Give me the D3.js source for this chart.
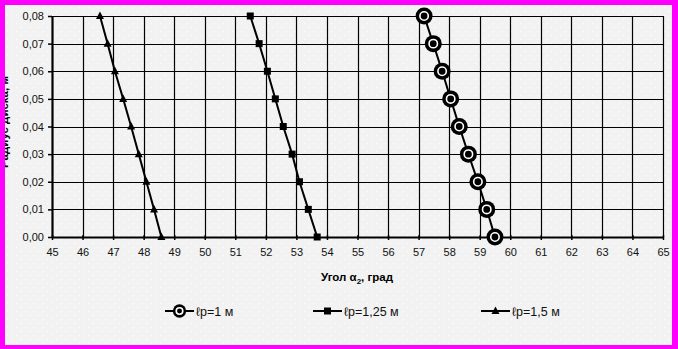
<!DOCTYPE html>
<html><head><meta charset="utf-8">
<script src="https://cdn.jsdelivr.net/npm/d3@7"></script>
<style>body{margin:0;padding:0;overflow:hidden;background:#fff}</style>
</head><body>
<svg id="c" width="678" height="349"></svg>
<script>
// ---- data ----
const radius = [0.08, 0.07, 0.06, 0.05, 0.04, 0.03, 0.02, 0.01, 0.00];
const angleLp1 = [57.18, 57.48, 57.77, 58.05, 58.33, 58.63, 58.94, 59.23, 59.50];
const angleLp125 = [51.49, 51.78, 52.05, 52.31, 52.57, 52.86, 53.10, 53.39, 53.68];
const angleLp15 = [46.57, 46.82, 47.06, 47.33, 47.59, 47.84, 48.09, 48.34, 48.58];
const seriesNames = ["ℓp=1 м", "ℓp=1,25 м", "ℓp=1,5 м"];
const xTicks = d3.range(45, 66, 1);
const yTicks = [0, 0.01, 0.02, 0.03, 0.04, 0.05, 0.06, 0.07, 0.08];
const xTitle = "Угол α", xSub = "2", xTitleEnd = ", град";
const yTitle = "Радиус диска, м";

const series = [
  {name: seriesNames[0], vals: angleLp1, marker: "circle"},
  {name: seriesNames[1], vals: angleLp125, marker: "square"},
  {name: seriesNames[2], vals: angleLp15, marker: "triangle"}
];

const svg = d3.select("#c");
const W = 678, H = 349;
const font = "'Liberation Sans', Arial, sans-serif";

// background + dotted pattern
const defs = svg.append("defs");
const pat = defs.append("pattern").attr("id","dots").attr("width",9).attr("height",8)
  .attr("patternUnits","userSpaceOnUse");
pat.append("rect").attr("width",9).attr("height",8).attr("fill","#f2f2f2");
pat.append("rect").attr("x",2).attr("y",3).attr("width",1).attr("height",1).attr("fill","#ffffff");
pat.append("rect").attr("x",7).attr("y",7).attr("width",1).attr("height",1).attr("fill","#ffffff");
svg.append("rect").attr("width",W).attr("height",H).attr("fill","url(#dots)");

const x = d3.scaleLinear().domain([45,65]).range([52,663]);
const y = d3.scaleLinear().domain([0,0.08]).range([237,16]);

// grid
const g = svg.append("g");
g.selectAll(".vg").data(xTicks.filter(d=>d>45)).join("line")
  .attr("x1",d=>Math.round(x(d))+0.5).attr("x2",d=>Math.round(x(d))+0.5)
  .attr("y1",y(0.08)).attr("y2",y(0)).attr("stroke","#000").attr("stroke-width",1.2);
g.selectAll(".hg").data(yTicks.filter(d=>d>0)).join("line")
  .attr("y1",d=>Math.round(y(d))+0.5).attr("y2",d=>Math.round(y(d))+0.5)
  .attr("x1",x(45)).attr("x2",x(65)).attr("stroke","#000").attr("stroke-width",1.2);

// axes
const xAxis = d3.axisBottom(x).tickValues(xTicks).tickSizeInner(3).tickSizeOuter(0).tickPadding(8)
  .tickFormat(d3.format("d"));
const xa = svg.append("g").attr("transform",`translate(0,${y(0)})`).call(xAxis);
xa.select(".domain").attr("stroke","#000").attr("stroke-width",2.2);
xa.selectAll(".tick line").attr("stroke","#000").attr("stroke-width",1.5).attr("y1",-2);
xa.selectAll("text").attr("font-family",font).attr("font-size",11).attr("fill","#111");

const yAxis = d3.axisLeft(y).tickValues(yTicks).tickSizeInner(4).tickSizeOuter(0).tickPadding(4)
  .tickFormat(d=>d3.format(".2f")(d).replace(".",","));
const ya = svg.append("g").attr("transform",`translate(${x(45)},0)`).call(yAxis);
ya.select(".domain").attr("stroke","#000").attr("stroke-width",2.2);
ya.selectAll(".tick line").attr("stroke","#000").attr("stroke-width",1.5);
ya.selectAll("text").attr("font-family",font).attr("font-size",11).attr("fill","#111");

// markers
function drawMarker(sel, type, cx, cy, scale) {
  const k = scale || 1;
  if (type === "circle") {
    sel.append("circle").attr("cx",cx).attr("cy",cy).attr("r",8.5*k).attr("fill","#000");
    sel.append("circle").attr("cx",cx).attr("cy",cy).attr("r",4.2*k).attr("fill","none")
      .attr("stroke","#fff").attr("stroke-width",1.6);
  } else if (type === "square") {
    sel.append("rect").attr("x",cx-3.5).attr("y",cy-3.5).attr("width",7).attr("height",7).attr("fill","#000");
  } else {
    sel.append("path").attr("d",`M${cx},${cy-4.5}L${cx+4},${cy+3}L${cx-4},${cy+3}Z`).attr("fill","#000");
  }
}

const line = d3.line().x(d=>x(d[0])).y(d=>y(d[1]));
series.forEach(s=>{
  const pts = s.vals.map((v,i)=>[v, radius[i]]);
  svg.append("path").attr("d",line(pts)).attr("fill","none").attr("stroke","#000").attr("stroke-width",2);
  const mg = svg.append("g");
  pts.forEach(p=>drawMarker(mg, s.marker, x(p[0]), y(p[1])));
});

// x title
const xt = svg.append("text").attr("x",357).attr("y",281).attr("text-anchor","middle")
  .attr("font-family",font).attr("font-size",11.5).attr("font-weight","bold").attr("fill","#000");
xt.append("tspan").text(xTitle);
xt.append("tspan").attr("font-size",8).attr("dy",3).text(xSub);
xt.append("tspan").attr("dy",-3).text(xTitleEnd);

// y title (rotated, partly hidden by frame)
svg.append("text").attr("transform","translate(8,122) rotate(-90)").attr("text-anchor","middle")
  .attr("font-family",font).attr("font-size",11.5).attr("font-weight","bold").attr("fill","#000")
  .text(yTitle);

// legend
const legX = [165, 313, 481];
const legY = 311;
series.forEach((s,i)=>{
  const lg = svg.append("g");
  lg.append("line").attr("x1",legX[i]).attr("x2",legX[i]+29).attr("y1",legY).attr("y2",legY)
    .attr("stroke","#000").attr("stroke-width",2);
  drawMarker(lg, s.marker, legX[i]+14.5, legY, 0.78);
  lg.append("text").attr("x",legX[i]+31).attr("y",legY+4.5).attr("font-family",font)
    .attr("font-size",12.5).attr("fill","#111").text(s.name);
});

// magenta frame
svg.append("rect").attr("x",0).attr("y",0).attr("width",5).attr("height",H).attr("fill","#ff00ff");
svg.append("rect").attr("x",0).attr("y",0).attr("width",W).attr("height",5).attr("fill","#ff00ff");
svg.append("rect").attr("x",672).attr("y",0).attr("width",6).attr("height",H).attr("fill","#ff00ff");
svg.append("rect").attr("x",0).attr("y",345).attr("width",W).attr("height",4).attr("fill","#ff00ff");
</script>
</body></html>
